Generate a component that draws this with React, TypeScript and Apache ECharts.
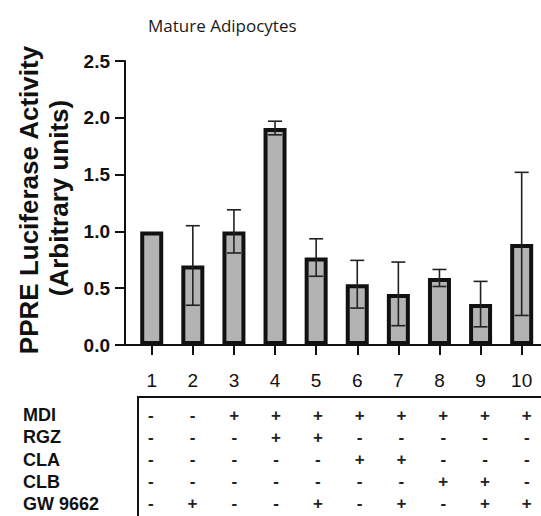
import React, { useEffect, useRef } from "react";
import * as echarts from "echarts";

// ---- data ----
const groups = [1, 2, 3, 4, 5, 6, 7, 8, 9, 10];
const means = [1.0, 0.7, 1.0, 1.91, 0.77, 0.535, 0.45, 0.59, 0.36, 0.89];
const errors = [0, 0.35, 0.19, 0.06, 0.165, 0.21, 0.28, 0.075, 0.2, 0.63];
const yTicks = [0, 0.5, 1.0, 1.5, 2.0, 2.5];
const treatments = ["MDI", "RGZ", "CLA", "CLB", "GW 9662"];
const mdi = ["-", "-", "+", "+", "+", "+", "+", "+", "+", "+"];
const rgz = ["-", "-", "-", "+", "+", "-", "-", "-", "-", "-"];
const cla = ["-", "-", "-", "-", "-", "+", "+", "-", "-", "-"];
const clb = ["-", "-", "-", "-", "-", "-", "-", "+", "+", "-"];
const gw9662 = ["-", "+", "-", "-", "+", "-", "+", "-", "+", "+"];
const matrix = [mdi, rgz, cla, clb, gw9662];
const title = "Mature Adipocytes";
const yTitle1 = "PPRE Luciferase Activity";
const yTitle2 = "(Arbitrary units)";

export default function App() {
  const ref = useRef<HTMLDivElement>(null);
  useEffect(() => {
    if (!ref.current) return;
    const chart = echarts.init(ref.current, null, { renderer: "svg" });
    const axisColor = "#111";
    const barData = groups.map((g, i) => [g, means[i]]);
    const errData = groups
      .map((g, i) => [g, means[i], errors[i]])
      .filter((d) => d[2] > 0);
    const tableData: any[] = [];
    matrix.forEach((row, r) => {
      row.forEach((s, c) => tableData.push([groups[c], r, s]));
    });

    chart.setOption({
      animation: false,
      title: {
        text: title,
        left: 148,
        top: 17,
        padding: 0,
        textStyle: {
          fontFamily: "Open Sans",
          fontSize: 17,
          fontWeight: "normal",
          color: "#1a1a1a",
        },
      },
      graphic: [
        {
          type: "text",
          x: 29,
          y: 200,
          rotation: Math.PI / 2,
          style: {
            text: yTitle1,
            font: "bold 26px 'Liberation Sans', Arial, sans-serif",
            fill: "#111",
            align: "center",
            verticalAlign: "middle",
          },
        },
        {
          type: "text",
          x: 59,
          y: 198,
          rotation: Math.PI / 2,
          style: {
            text: yTitle2,
            font: "bold 26px 'Liberation Sans', Arial, sans-serif",
            fill: "#111",
            align: "center",
            verticalAlign: "middle",
          },
        },
      ],
      grid: [
        { left: 125, top: 61, width: 416, height: 284 },
        { left: 138, top: 397, width: 403, height: 119 },
      ],
      xAxis: [
        {
          type: "value",
          gridIndex: 0,
          min: 0.35,
          max: 10.47,
          splitLine: { show: false },
          axisLine: { show: true, onZero: false, lineStyle: { color: axisColor, width: 2 } },
          axisTick: {
            show: true,
            customValues: groups,
            length: 10,
            lineStyle: { color: axisColor, width: 2 },
          },
          axisLabel: {
            customValues: groups,
            margin: 26,
            fontFamily: "'Liberation Sans', Arial, sans-serif",
            fontSize: 19,
            color: "#111",
          },
        },
        {
          type: "value",
          gridIndex: 1,
          position: "top",
          min: 0.696,
          max: 10.34,
          splitLine: { show: false },
          axisLine: { show: true, onZero: false, lineStyle: { color: axisColor, width: 2 } },
          axisTick: { show: false },
          axisLabel: { show: false },
        },
      ],
      yAxis: [
        {
          type: "value",
          gridIndex: 0,
          min: 0,
          max: 2.5,
          interval: 0.5,
          splitLine: { show: false },
          axisLine: { show: true, onZero: false, lineStyle: { color: axisColor, width: 2 } },
          axisTick: { show: true, length: 10, lineStyle: { color: axisColor, width: 2 } },
          axisLabel: {
            margin: 15,
            fontFamily: "'Liberation Sans', Arial, sans-serif",
            fontWeight: "bold",
            fontSize: 19,
            color: "#111",
            formatter: (v: number) => (yTicks.includes(v) ? v.toFixed(1) : ""),
          },
        },
        {
          type: "value",
          gridIndex: 1,
          inverse: true,
          min: -0.81,
          max: 4.54,
          splitLine: { show: false },
          axisLine: { show: true, onZero: false, lineStyle: { color: axisColor, width: 2 } },
          axisTick: { show: false },
          axisLabel: {
            customValues: treatments.map((_, i) => i),
            formatter: (v: number) => treatments[Math.round(v)] ?? "",
            align: "left",
            margin: 115,
            fontFamily: "'Liberation Sans', Arial, sans-serif",
            fontWeight: "bold",
            fontSize: 18,
            color: "#111",
          },
        },
      ],
      series: [
        {
          type: "bar",
          xAxisIndex: 0,
          yAxisIndex: 0,
          data: barData,
          barWidth: 23,
          itemStyle: { color: "#b3b3b3", borderColor: "#111", borderWidth: 4 },
          z: 2,
        },
        {
          type: "custom",
          xAxisIndex: 0,
          yAxisIndex: 0,
          data: errData,
          z: 5,
          renderItem: (params: any, api: any) => {
            const x = api.value(0);
            const m = api.value(1);
            const e = api.value(2);
            const top = api.coord([x, m + e]);
            const bot = api.coord([x, m - e]);
            const hw = 7;
            const style = { stroke: "#222", lineWidth: 1.6 };
            return {
              type: "group",
              children: [
                { type: "line", shape: { x1: top[0], y1: top[1], x2: bot[0], y2: bot[1] }, style },
                { type: "line", shape: { x1: top[0] - hw, y1: top[1], x2: top[0] + hw, y2: top[1] }, style },
                { type: "line", shape: { x1: bot[0] - hw, y1: bot[1], x2: bot[0] + hw, y2: bot[1] }, style },
              ],
            };
          },
        },
        {
          type: "custom",
          xAxisIndex: 1,
          yAxisIndex: 1,
          data: tableData,
          renderItem: (params: any, api: any) => {
            const d = tableData[params.dataIndex];
            const p = api.coord([d[0], d[1]]);
            return {
              type: "text",
              x: p[0],
              y: p[1],
              style: {
                text: d[2],
                fill: "#222",
                font: "bold 17px 'Liberation Sans', Arial, sans-serif",
                align: "center",
                verticalAlign: "middle",
              },
            };
          },
        },
      ],
    });
    return () => chart.dispose();
  }, []);
  return (
    <div
      ref={ref}
      style={{ position: "fixed", left: 0, top: 0, width: 541, height: 516, background: "#fff" }}
    />
  );
}
